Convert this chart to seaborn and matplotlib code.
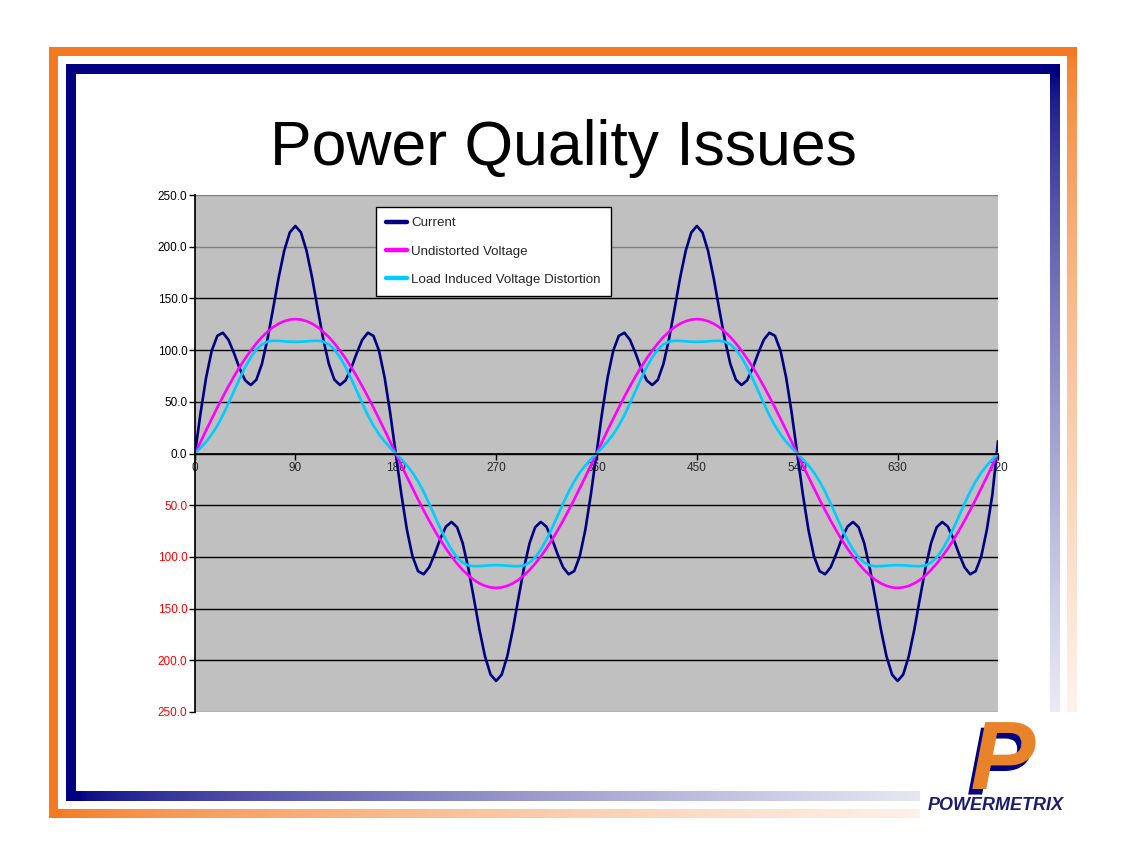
import numpy as np
import pandas as pd
import matplotlib
matplotlib.use("Agg")
import matplotlib.pyplot as plt
import matplotlib.colors as mcolors
import matplotlib.patheffects as pe
import seaborn as sns

# -----------------------------------
# Data (5 degree steps)
# -----------------------------------
degrees = list(range(0, 725, 5))

current = [
    0,
    39.3, 73.7, 99.4, 113.8, 116.8, 110.0, 97.0, 82.3, 70.7, 66.2, 71.3, 86.6, 110.6, 139.9, 170.1, 196.1, 213.8, 220.0,
    213.8, 196.1, 170.1, 139.9, 110.6, 86.6, 71.3, 66.2, 70.7, 82.3, 97.0, 110.0, 116.8, 113.8, 99.4, 73.7, 39.3, 0,
    -39.3, -73.7, -99.4, -113.8, -116.8, -110.0, -97.0, -82.3, -70.7, -66.2, -71.3, -86.6, -110.6, -139.9, -170.1, -196.1, -213.8, -220.0,
    -213.8, -196.1, -170.1, -139.9, -110.6, -86.6, -71.3, -66.2, -70.7, -82.3, -97.0, -110.0, -116.8, -113.8, -99.4, -73.7, -39.3, 0,
    39.3, 73.7, 99.4, 113.8, 116.8, 110.0, 97.0, 82.3, 70.7, 66.2, 71.3, 86.6, 110.6, 139.9, 170.1, 196.1, 213.8, 220.0,
    213.8, 196.1, 170.1, 139.9, 110.6, 86.6, 71.3, 66.2, 70.7, 82.3, 97.0, 110.0, 116.8, 113.8, 99.4, 73.7, 39.3, 0,
    -39.3, -73.7, -99.4, -113.8, -116.8, -110.0, -97.0, -82.3, -70.7, -66.2, -71.3, -86.6, -110.6, -139.9, -170.1, -196.1, -213.8, -220.0,
    -213.8, -196.1, -170.1, -139.9, -110.6, -86.6, -71.3, -66.2, -70.7, -82.3, -97.0, -110.0, -116.8, -113.8, -99.4, -73.7, -39.3, 12.0,
]

undistorted = [
    0,
    11.3, 22.6, 33.6, 44.5, 54.9, 65.0, 74.6, 83.6, 91.9, 99.6, 106.5, 112.6, 117.8, 122.2, 125.6, 128.0, 129.5, 130.0,
    129.5, 128.0, 125.6, 122.2, 117.8, 112.6, 106.5, 99.6, 91.9, 83.6, 74.6, 65.0, 54.9, 44.5, 33.6, 22.6, 11.3, 0,
    -11.3, -22.6, -33.6, -44.5, -54.9, -65.0, -74.6, -83.6, -91.9, -99.6, -106.5, -112.6, -117.8, -122.2, -125.6, -128.0, -129.5, -130.0,
    -129.5, -128.0, -125.6, -122.2, -117.8, -112.6, -106.5, -99.6, -91.9, -83.6, -74.6, -65.0, -54.9, -44.5, -33.6, -22.6, -11.3, 0,
    11.3, 22.6, 33.6, 44.5, 54.9, 65.0, 74.6, 83.6, 91.9, 99.6, 106.5, 112.6, 117.8, 122.2, 125.6, 128.0, 129.5, 130.0,
    129.5, 128.0, 125.6, 122.2, 117.8, 112.6, 106.5, 99.6, 91.9, 83.6, 74.6, 65.0, 54.9, 44.5, 33.6, 22.6, 11.3, 0,
    -11.3, -22.6, -33.6, -44.5, -54.9, -65.0, -74.6, -83.6, -91.9, -99.6, -106.5, -112.6, -117.8, -122.2, -125.6, -128.0, -129.5, -130.0,
    -129.5, -128.0, -125.6, -122.2, -117.8, -112.6, -106.5, -99.6, -91.9, -83.6, -74.6, -65.0, -54.9, -44.5, -33.6, -22.6, -11.3, 0,
]

distortion = [
    0,
    5.5, 11.5, 18.5, 27.0, 37.0, 48.5, 60.5, 72.5, 83.5, 93.0, 100.5, 105.5, 108.2, 109.0, 108.9, 108.5, 108.1, 108.0,
    108.1, 108.5, 108.9, 109.0, 108.2, 105.5, 100.5, 93.0, 83.5, 72.5, 60.5, 48.5, 37.0, 27.0, 18.5, 11.5, 5.5, 0,
    -5.5, -11.5, -18.5, -27.0, -37.0, -48.5, -60.5, -72.5, -83.5, -93.0, -100.5, -105.5, -108.2, -109.0, -108.9, -108.5, -108.1, -108.0,
    -108.1, -108.5, -108.9, -109.0, -108.2, -105.5, -100.5, -93.0, -83.5, -72.5, -60.5, -48.5, -37.0, -27.0, -18.5, -11.5, -5.5, 0,
    5.5, 11.5, 18.5, 27.0, 37.0, 48.5, 60.5, 72.5, 83.5, 93.0, 100.5, 105.5, 108.2, 109.0, 108.9, 108.5, 108.1, 108.0,
    108.1, 108.5, 108.9, 109.0, 108.2, 105.5, 100.5, 93.0, 83.5, 72.5, 60.5, 48.5, 37.0, 27.0, 18.5, 11.5, 5.5, 0,
    -5.5, -11.5, -18.5, -27.0, -37.0, -48.5, -60.5, -72.5, -83.5, -93.0, -100.5, -105.5, -108.2, -109.0, -108.9, -108.5, -108.1, -108.0,
    -108.1, -108.5, -108.9, -109.0, -108.2, -105.5, -100.5, -93.0, -83.5, -72.5, -60.5, -48.5, -37.0, -27.0, -18.5, -11.5, -5.5, 0,
]

series_names = ["Current", "Undistorted Voltage", "Load Induced Voltage Distortion"]
series_colors = ["#000080", "#FF00FF", "#00CCFF"]

x_ticks = [0, 90, 180, 270, 360, 450, 540, 630, 720]
y_ticks = [250, 200, 150, 100, 50, 0, -50, -100, -150, -200, -250]
y_tick_labels = ["250.0", "200.0", "150.0", "100.0", "50.0", "0.0",
                 "50.0", "100.0", "150.0", "200.0", "250.0"]

df = pd.DataFrame({
    "Degrees": degrees * 3,
    "Value": current + undistorted + distortion,
    "Series": [series_names[0]] * len(degrees) + [series_names[1]] * len(degrees)
              + [series_names[2]] * len(degrees),
})

# Set Style
sns.set_theme(style="white")
plt.rcParams['font.family'] = ['Liberation Sans', 'DejaVu Sans']

W, H = 1121, 861
fig = plt.figure(figsize=(W / 100, H / 100), dpi=100)

# -----------------------------------
# Slide frame (pixel coordinates)
# -----------------------------------
bg = fig.add_axes([0, 0, 1, 1], zorder=0)
ORANGE = "#F47920"
NAVY = "#000080"


def frame_bar(x0, x1, y0, y1, color, fade=None):
    if fade is None:
        bg.add_patch(plt.Rectangle((x0, y0), x1 - x0, y1 - y0, color=color, lw=0))
        return
    t = np.linspace(0, 1, 256) ** 0.65
    c = np.array(mcolors.to_rgb(color))
    cols = c[None, :] * (1 - t[:, None]) + t[:, None]
    img = cols[:, None, :] if fade == "down" else cols[None, :, :]
    bg.imshow(img, extent=(x0, x1, y1, y0), aspect="auto", interpolation="bilinear")


frame_bar(49, 1077, 47, 56, ORANGE)
frame_bar(49, 58, 47, 818, ORANGE)
frame_bar(1067, 1077, 47, 818, ORANGE, fade="down")
frame_bar(58, 1077, 809, 818, ORANGE, fade="right")
frame_bar(66, 1060, 64, 74, NAVY)
frame_bar(66, 76, 64, 801, NAVY)
frame_bar(1050, 1060, 74, 801, NAVY, fade="down")
frame_bar(76, 1060, 791, 801, NAVY, fade="right")

# logo
bg.add_patch(plt.Rectangle((920, 712), 160, 120, color="white", lw=0))
bg.text(1003, 789, "P", fontsize=70, fontweight="bold", fontstyle="italic",
        color="#E8832A", ha="center", va="baseline",
        path_effects=[pe.SimplePatchShadow(offset=(-3, -4), shadow_rgbFace=NAVY, alpha=1),
                      pe.Normal()])
bg.text(996, 810, "POWERMETRIX", fontsize=13, fontweight="bold", fontstyle="italic",
        color="#1C1C6E", ha="center", va="baseline")

bg.set_xlim(0, W)
bg.set_ylim(H, 0)
bg.axis("off")

# Title
fig.text(563 / W, 1 - 149 / H, "Power Quality Issues", fontsize=45,
         ha="center", va="center", color="black")

# -----------------------------------
# Chart
# -----------------------------------
ax = fig.add_axes([195 / W, 1 - 712 / H, 803 / W, 517 / H], zorder=1)
ax.set_facecolor("#C0C0C0")

sns.lineplot(data=df, x="Degrees", y="Value", hue="Series", palette=series_colors,
             linewidth=1.9, sort=False, estimator=None, ax=ax)

for v in y_ticks:
    col = "#808080" if v in (250, 200, -250) else "black"
    ax.axhline(v, color=col, lw=1, zorder=1)

ax.set_xlim(0, 720)
ax.set_ylim(-250, 250)
ax.set_xlabel("")
ax.set_ylabel("")

ax.set_xticks(x_ticks)
ax.set_xticklabels([str(x) for x in x_ticks])
ax.set_yticks(y_ticks)
ax.set_yticklabels(y_tick_labels)
for lab, v in zip(ax.get_yticklabels(), y_ticks):
    lab.set_color("red" if v < 0 else "black")

ax.spines["bottom"].set_position(("data", 0))
ax.spines["bottom"].set_color("black")
ax.spines["left"].set_color("black")
ax.spines["top"].set_visible(False)
ax.spines["right"].set_visible(False)
ax.tick_params(axis="y", direction="out", length=4, width=1, color="black",
               labelsize=8.5, pad=1.5, left=True)
ax.tick_params(axis="x", direction="out", length=4, width=1, color="black",
               labelsize=8.5, pad=2, bottom=True)

handles, labels = ax.get_legend_handles_labels()
leg = ax.legend(handles, labels, loc="upper left", bbox_to_anchor=(0.2254, 0.9768),
                frameon=True, fancybox=False, edgecolor="black", framealpha=1,
                fontsize=9.6, handlelength=1.6, handletextpad=0.3, labelspacing=1.2,
                borderpad=0.75, borderaxespad=0, title=None)
leg.get_frame().set_linewidth(1)
for line in leg.get_lines():
    line.set_linewidth(3.2)

fig.savefig("out.png", dpi=100)
